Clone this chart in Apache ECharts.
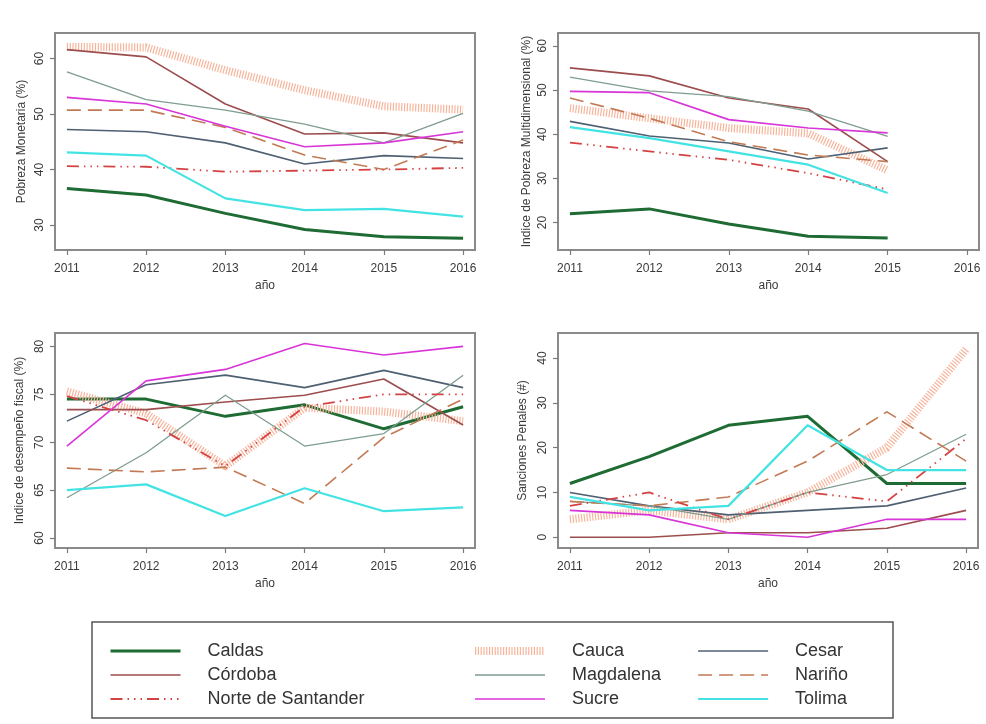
<!DOCTYPE html>
<html><head><meta charset="utf-8">
<script src="https://cdn.jsdelivr.net/npm/echarts@6/dist/echarts.min.js"></script>
<style>html,body{margin:0;padding:0;background:#fff}#c{width:986px;height:724px}</style>
</head><body><div id="c"></div><script>
const years = [2011, 2012, 2013, 2014, 2015, 2016];
const departamentos = ['Caldas', 'Cauca', 'Cesar', 'Córdoba', 'Magdalena', 'Nariño', 'Norte de Santander', 'Sucre', 'Tolima'];

// Pobreza Monetaria (%), one row per departamento
const pobrezaMonetaria = [
  [36.6, 35.4, 32.1, 29.2, 27.9, 27.6],
  [62.1, 62.0, 57.9, 54.3, 51.4, 50.8],
  [47.2, 46.8, 44.8, 41.0, 42.5, 42.0],
  [61.6, 60.3, 51.8, 46.4, 46.6, 44.8],
  [57.6, 52.6, 50.7, 48.2, 44.8, 50.1],
  [50.7, 50.7, 47.6, 42.6, 40.0, 45.3],
  [40.6, 40.5, 39.6, 39.8, 40.0, 40.3],
  [53.0, 51.8, 47.8, 44.1, 44.8, 46.8],
  [43.1, 42.5, 34.8, 32.7, 32.9, 31.5]
];
// Indice de Pobreza Multidimensional (%), no 2016 value
const pobrezaMultidimensional = [
  [22.0, 23.1, 19.7, 16.9, 16.5, null],
  [45.9, 43.6, 41.4, 40.2, 31.8, null],
  [42.9, 39.6, 38.0, 34.4, 36.9, null],
  [55.0, 53.2, 48.2, 45.7, 33.8, null],
  [52.9, 49.8, 48.5, 45.2, 39.5, null],
  [48.2, 43.6, 38.3, 35.3, 33.8, null],
  [38.1, 36.1, 34.2, 31.2, 27.5, null],
  [49.7, 49.4, 43.3, 41.4, 40.3, null],
  [41.6, 39.1, 36.1, 33.1, 26.7, null]
];
// Indice de desempeño fiscal (%)
const desempenoFiscal = [
  [74.5, 74.5, 72.7, 73.9, 71.4, 73.7],
  [75.3, 73.0, 67.5, 73.6, 73.2, 72.2],
  [72.2, 76.0, 77.0, 75.7, 77.5, 75.7],
  [73.4, 73.4, 74.2, 74.9, 76.6, 71.8],
  [64.2, 68.9, 74.9, 69.6, 70.9, 77.0],
  [67.3, 66.9, 67.4, 63.6, 70.5, 74.5],
  [74.8, 72.3, 67.5, 73.7, 75.0, 75.0],
  [69.6, 76.4, 77.6, 80.3, 79.1, 80.0],
  [65.0, 65.6, 62.3, 65.2, 62.8, 63.2]
];
// Sanciones Penales (#)
const sancionesPenales = [
  [12, 18, 25, 27, 12, 12],
  [4, 6, 4, 10, 20, 42],
  [10, 7, 5, 6, 7, 11],
  [0, 0, 1, 1, 2, 6],
  [8, 7, 4, 10, 14, 23],
  [8, 7, 9, 17, 28, 17],
  [7, 10, 4, 10, 8, 22],
  [6, 5, 1, 0, 4, 4],
  [9, 6, 7, 25, 15, 15]
];

const panelTitles = ['Pobreza Monetaria (%)', 'Indice de Pobreza Multidimensional (%)', 'Indice de desempeño fiscal (%)', 'Sanciones Penales (#)'];
const yTicks = [[30, 40, 50, 60], [20, 30, 40, 50, 60], [60, 65, 70, 75, 80], [0, 10, 20, 30, 40]];

// line look for each departamento
const estilos = {
  'Caldas': { color: '#1e6b33', width: 3, type: 'solid' },
  'Cauca': { color: '#f6b49b', width: 8, type: [1.2, 1.6] },
  'Cesar': { color: '#4f6072', width: 1.6, type: 'solid' },
  'Córdoba': { color: '#9c4d4d', width: 1.6, type: 'solid' },
  'Magdalena': { color: '#7f9d8f', width: 1.3, type: 'solid' },
  'Nariño': { color: '#c27a55', width: 1.6, type: [14, 7] },
  'Norte de Santander': { color: '#d44343', width: 1.8, type: [12, 5, 1.5, 5, 1.5, 5, 1.5, 5] },
  'Sucre': { color: '#d835d8', width: 1.6, type: 'solid' },
  'Tolima': { color: '#44e3e3', width: 2.2, type: 'solid' }
};

const grids = [
  { left: 55, top: 33, width: 420, height: 217, yMin: 25.5, yMax: 64.6, nameGap: 27 },
  { left: 558, top: 33, width: 421, height: 217, yMin: 13.8, yMax: 62.9, nameGap: 25 },
  { left: 55, top: 333, width: 420, height: 215, yMin: 58.96, yMax: 81.4, nameGap: 29 },
  { left: 558, top: 333, width: 420, height: 215, yMin: -2.4, yMax: 45.6, nameGap: 29 }
];
const tablas = [pobrezaMonetaria, pobrezaMultidimensional, desempenoFiscal, sancionesPenales];

const font = 'Liberation Sans, Arial, sans-serif';
const axisGray = '#7a7a7a';
const textGray = '#3a3a3a';

const option = {
  backgroundColor: '#ffffff',
  animation: false,
  grid: grids.map(g => ({
    left: g.left, top: g.top, width: g.width, height: g.height,
    show: true, borderColor: '#8a8a8a', borderWidth: 2, backgroundColor: '#ffffff'
  })),
  xAxis: grids.map((g, i) => ({
    type: 'value', gridIndex: i, min: 2010.85, max: 2016.15,
    name: 'año', nameLocation: 'middle', nameGap: 30,
    nameTextStyle: { fontFamily: font, fontSize: 12, color: textGray },
    axisLine: { show: false, onZero: false },
    axisTick: { show: true, customValues: years, length: 5, lineStyle: { color: axisGray, width: 1.2 } },
    axisLabel: { customValues: years, formatter: v => String(v), fontFamily: font, fontSize: 12, color: textGray, margin: 13 },
    splitLine: { show: false }
  })),
  yAxis: grids.map((g, i) => ({
    type: 'value', gridIndex: i, min: g.yMin, max: g.yMax,
    name: panelTitles[i], nameLocation: 'middle', nameGap: g.nameGap, nameRotate: 90,
    nameTextStyle: { fontFamily: font, fontSize: 12, color: textGray },
    axisLine: { show: false, onZero: false },
    axisTick: { show: true, customValues: yTicks[i], length: 5, lineStyle: { color: axisGray, width: 1.2 } },
    axisLabel: { customValues: yTicks[i], rotate: 90, fontFamily: font, fontSize: 12, color: textGray, margin: 9 },
    splitLine: { show: false }
  })),
  legend: [
    ['Caldas', 'Córdoba', 'Norte de Santander'],
    ['Cauca', 'Magdalena', 'Sucre'],
    ['Cesar', 'Nariño', 'Tolima']
  ].map((names, c) => ({
    data: names, orient: 'vertical', left: [104, 466, 692][c], top: 637,
    itemWidth: 70, itemHeight: 20, itemGap: 6, selectedMode: false,
    itemStyle: { opacity: 0, color: 'rgba(0,0,0,0)', borderWidth: 0 },
    lineStyle: { width: 'inherit', type: 'inherit', color: 'inherit' },
    textStyle: { fontFamily: font, fontSize: 18, color: '#333', padding: [0, 0, 0, 22] }
  })),
  graphic: [{
    type: 'rect', shape: { x: 92, y: 622, width: 801, height: 96 },
    style: { fill: 'none', stroke: '#555', lineWidth: 1.5 }, silent: true
  }],
  series: []
};

tablas.forEach((tabla, p) => {
  departamentos.forEach((dep, d) => {
    const e = estilos[dep];
    option.series.push({
      type: 'line', name: dep, xAxisIndex: p, yAxisIndex: p,
      data: years.map((y, k) => [y, tabla[d][k]]),
      symbol: 'none', connectNulls: false, silent: true,
      lineStyle: { color: e.color, width: e.width, type: e.type, cap: 'butt', join: 'round' },
      itemStyle: { color: e.color }
    });
  });
});

echarts.init(document.getElementById('c'), null, { renderer: 'canvas' }).setOption(option);
</script></body></html>
